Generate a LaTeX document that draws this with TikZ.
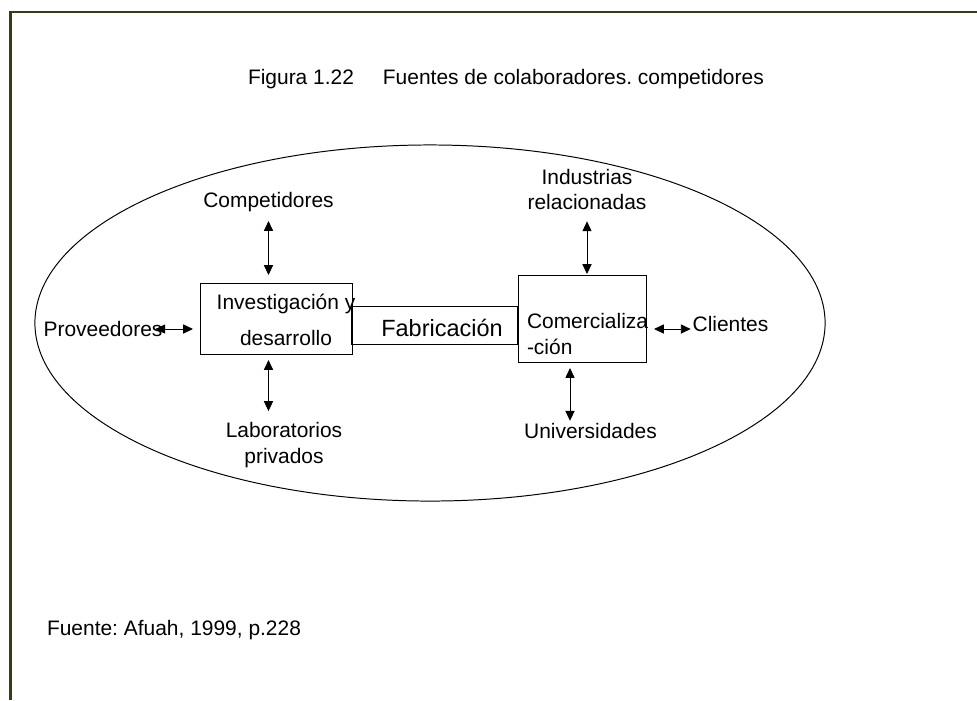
\documentclass[tikz,border=0pt]{standalone}
\usepackage{fontspec}
\setmainfont{Liberation Sans}
\frenchspacing
\usepackage{tikz}
\usetikzlibrary{calc,positioning,arrows.meta}
\definecolor{frame olive}{RGB}{58,58,20}
\tikzset{plain box/.style={rectangle,draw,line width=0.7pt,inner sep=0pt,outer sep=0pt},
	source/.style={inner sep=0pt,outer sep=0pt,align=center,font=\fontsize{14.9}{18}\selectfont},
	both ways/.style={{Triangle[length=7pt,width=6.5pt]}-{Triangle[length=7pt,width=6.5pt]},line width=0.6pt}}

\begin{document}
\begin{tikzpicture}[x=0.025cm,y=-0.025cm]
	\useasboundingbox (0,0) rectangle (977,700);
	\draw [frame olive,line width=1.8pt] (10.5,700) -- (10.5,12) -- (977,12);
	\draw [line width=0.7pt] (430,323) ellipse [x radius=9.875cm, y radius=4.45cm];
	
	\node (title)	[source,anchor=west] at	(248,79)	{Figura 1.22\hspace{20.6pt}Fuentes de colaboradores. competidores};
	
	\node (rd)	[plain box,minimum width=3.775cm,minimum height=1.775cm] at	(276.5,318.5)	{};
	\node (fab)	[plain box,minimum width=4.125cm,minimum height=0.95cm] at	(434.5,325)	{};
	\node (com)	[plain box,minimum width=3.2cm,minimum height=2.175cm] at	(582,318.5)	{};
	
	\node (rdtext)	[source] at	(286,320)	{Investigación y\\[7.6pt]desarrollo};
	\node (fabtext)	[source,font=\fontsize{16.7}{20}\selectfont] at	(442,328)	{Fabricación};
	\node (comtext)	[source,align=left,anchor=west] at	(527,334)	{Comercializa\\-ción};
	
	\node (prov)	[source] at	(103,329)	{Proveedores};
	\node (comp)	[source] at	(268.5,202)	{Competidores};
	\node (lab)	[source] at	(284,445)	{Laboratorios\\privados};
	\node (ind)	[source] at	(587,189.5)	{Industrias\\relacionadas};
	\node (uni)	[source] at	(590.5,431)	{Universidades};
	\node (cli)	[source] at	(730.5,324)	{Clientes};
	\node (src)	[source,anchor=west] at	(47,630)	{Fuente: Afuah, 1999, p.228};
	
	\draw [both ways,shorten <=6.6pt,shorten >=5.7pt] (comp.south) -- (comp.south |- rd.north);
	\draw [both ways,shorten <=4.3pt,shorten >=8.2pt] (comp.south |- rd.south) -- (comp.south |- lab.north);
	\draw [both ways,shorten <=8.2pt,shorten >=0.7pt] (ind.south) -- (ind.south |- com.north);
	\draw [both ways,shorten <=4.3pt,shorten >=1.8pt] ($(com.south)+(-12,0)$) -- ($(com.south |- uni.north)+(-12,0)$);
	\draw [both ways,shorten <=-5pt,shorten >=5.7pt] (prov.east) -- (prov.east -| rd.west);
	\draw [both ways,shorten <=5.7pt,shorten >=1.4pt] ($(com.east |- cli.west)+(0,5)$) -- ($(cli.west)+(0,5)$);
\end{tikzpicture}
\end{document}
